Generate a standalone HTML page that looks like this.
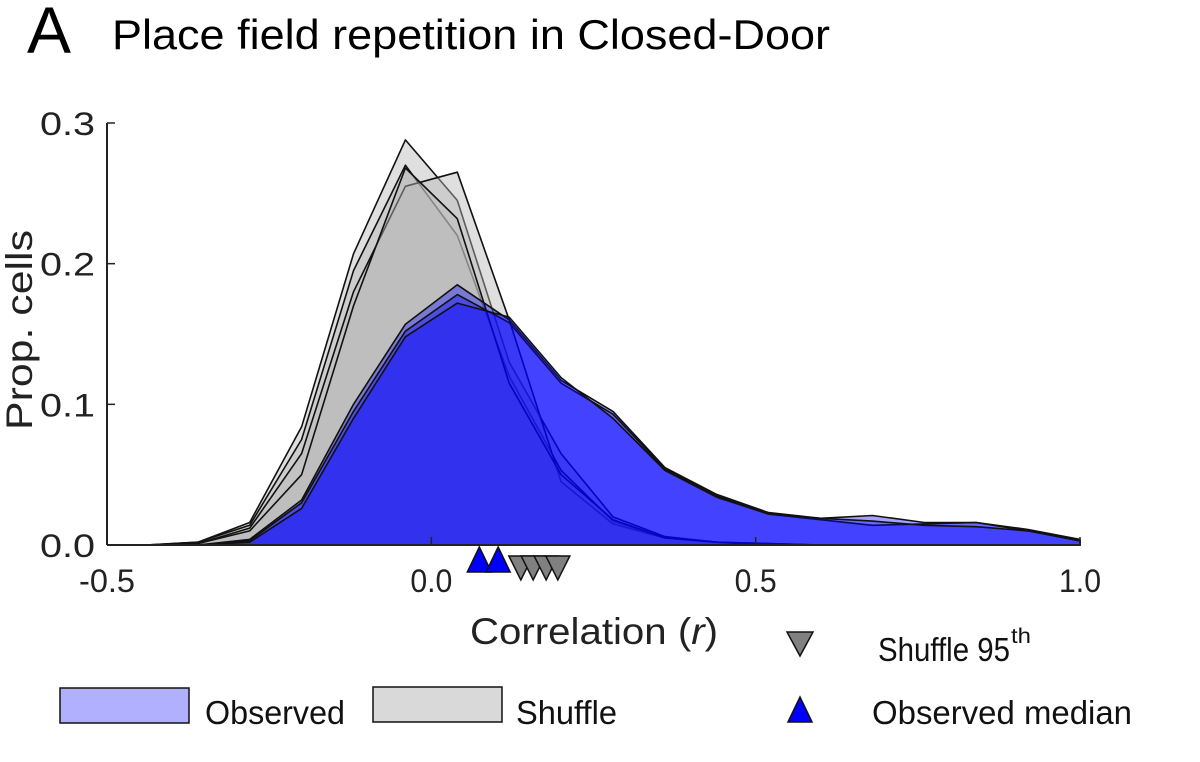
<!DOCTYPE html>
<html><head><meta charset="utf-8"><style>
html,body{margin:0;padding:0;background:#fff;}
svg{display:block;font-family:"Liberation Sans",Arial,sans-serif;}
</style></head><body>
<svg id="chart" width="1200" height="762" viewBox="0 0 1200 762">
<text x="27" y="53" font-size="66" fill="#000">A</text>
<text x="112" y="49" font-size="42" textLength="718" lengthAdjust="spacingAndGlyphs" fill="#000">Place field repetition in Closed-Door</text>
<g id="shuffle-layer"></g>
<g id="obs-layer"></g>
<g id="axes"></g>
<g id="markers"></g>
<text x="470" y="644" font-size="37" textLength="248" lengthAdjust="spacingAndGlyphs" fill="#222">Correlation (<tspan font-style="italic">r</tspan>)</text>
<text transform="translate(32,330) rotate(-90)" font-size="37" text-anchor="middle" textLength="200" lengthAdjust="spacingAndGlyphs" fill="#222">Prop. cells</text>
<g>
<rect x="60" y="688" width="129" height="35" fill="#b0b0ff" stroke="#111" stroke-width="1.5"/>
<text x="205" y="724" font-size="33" textLength="140" lengthAdjust="spacingAndGlyphs" fill="#111">Observed</text>
<rect x="373" y="687" width="129" height="35" fill="#d9d9d9" stroke="#111" stroke-width="1.5"/>
<text x="516" y="724" font-size="33" textLength="101" lengthAdjust="spacingAndGlyphs" fill="#111">Shuffle</text>
<polygon points="787,632 813,632 800,656" fill="#808080" stroke="#111" stroke-width="1.5"/>
<text x="878" y="661" font-size="33" textLength="132" lengthAdjust="spacingAndGlyphs" fill="#111">Shuffle 95</text>
<text x="1011" y="643" font-size="21" textLength="20" lengthAdjust="spacingAndGlyphs" fill="#111">th</text>
<polygon points="788,722 812,722 800,697" fill="#0000ff" stroke="#111" stroke-width="1.5"/>
<text x="872" y="724" font-size="33" textLength="260" lengthAdjust="spacingAndGlyphs" fill="#111">Observed median</text>
</g>
</svg>
<script>
const binCenters=[-0.44,-0.36,-0.28,-0.2,-0.12,-0.04,0.04,0.12,0.2,0.28,0.36,0.44,0.52,0.6,0.68,0.76,0.84,0.92,1.0];
const shuffle1=[0,0.002,0.016,0.084,0.207,0.288,0.245,0.13,0.065,0.02,0.006,0.002,0.001,0,0,0,0,0,0];
const shuffle2=[0,0.002,0.014,0.075,0.195,0.27,0.22,0.12,0.053,0.017,0.005,0.002,0.001,0,0,0,0,0,0];
const shuffle3=[0,0.001,0.012,0.065,0.18,0.255,0.265,0.16,0.045,0.015,0.005,0.002,0,0,0,0,0,0,0];
const shuffle4=[0,0.001,0.01,0.05,0.17,0.268,0.232,0.115,0.05,0.018,0.005,0.002,0,0,0,0,0,0,0];
const observed1=[0,0,0.004,0.032,0.1,0.157,0.185,0.16,0.117,0.095,0.055,0.036,0.023,0.019,0.021,0.016,0.016,0.011,0.004];
const observed2=[0,0,0.003,0.03,0.095,0.152,0.178,0.158,0.115,0.093,0.054,0.035,0.022,0.018,0.014,0.015,0.016,0.01,0.003];
const observed3=[0,0,0.002,0.026,0.09,0.148,0.172,0.162,0.119,0.09,0.053,0.034,0.022,0.019,0.017,0.014,0.013,0.01,0.003];
const shuffleSeries=[shuffle1,shuffle2,shuffle3,shuffle4];
const observedSeries=[observed1,observed2,observed3];
const medianValues=[0.074,0.103];
const shuffle95Values=[0.138,0.157,0.177,0.195];
const xTicks=[-0.5,0,0.5,1.0];
const xTickLabels=["-0.5","0.0","0.5","1.0"];
const yTicks=[0,0.1,0.2,0.3];
const yTickLabels=["0.0","0.1","0.2","0.3"];

const NS="http://www.w3.org/2000/svg";
const X0=107,X1=1080,Y0=545,Y1=123;
function xs(v){return X0+(v+0.5)/1.5*(X1-X0);}
function ys(v){return Y0-v/0.3*(Y0-Y1);}
function mk(tag,attrs,parent){const e=document.createElementNS(NS,tag);for(const k in attrs)e.setAttribute(k,attrs[k]);parent.appendChild(e);return e;}
function areaPath(arr){let d="M"+xs(binCenters[0])+","+ys(0);arr.forEach((v,i)=>{d+=" L"+xs(binCenters[i]).toFixed(1)+","+ys(v).toFixed(1);});d+=" L"+xs(binCenters[binCenters.length-1])+","+ys(0)+" Z";return d;}
const sl=document.getElementById('shuffle-layer');
shuffleSeries.forEach((s,i)=>{
 const p=mk('path',{d:areaPath(s),fill:'#b8b8b8','fill-opacity':'0.45',stroke:'#111','stroke-width':'1.6','stroke-linejoin':'round'},sl);
 
 
});
const ol=document.getElementById('obs-layer');
observedSeries.forEach((s,i)=>{
 const p=mk('path',{d:areaPath(s),fill:'#0000ff','fill-opacity':'0.36',stroke:'#111','stroke-width':'1.6','stroke-linejoin':'round'},ol);
 
 
});
const ax=document.getElementById('axes');
const xl=mk('line',{x1:X0,y1:Y0,x2:X1,y2:Y0,stroke:'#222','stroke-width':'2'},ax);


const yl=mk('line',{x1:X0,y1:Y0,x2:X0,y2:Y1,stroke:'#222','stroke-width':'2'},ax);


xTicks.forEach((v,i)=>{
 mk('line',{x1:xs(v),y1:Y0,x2:xs(v),y2:Y0-8,stroke:'#222','stroke-width':'1.5'},ax);
 const w=xTickLabels[i].length*14;
 const t=mk('text',{x:xs(v),y:592,'font-size':'32','text-anchor':'middle',textLength:w,lengthAdjust:'spacingAndGlyphs',fill:'#222'},ax);
 t.textContent=xTickLabels[i];
 
 
});
yTicks.forEach((v,i)=>{
 mk('line',{x1:X0,y1:ys(v),x2:X0+8,y2:ys(v),stroke:'#222','stroke-width':'1.5'},ax);
 const t=mk('text',{x:95,y:ys(v)+12,'font-size':'32','text-anchor':'end',textLength:55,lengthAdjust:'spacingAndGlyphs',fill:'#222'},ax);
 t.textContent=yTickLabels[i];
 
 
});
const mg=document.getElementById('markers');
shuffle95Values.forEach(v=>{
 const c=xs(v);
 const p=mk('polygon',{points:`${c-12},556 ${c+12},556 ${c},580`,fill:'#808080',stroke:'#111','stroke-width':'1.5'},mg);
 
 
});
medianValues.forEach(v=>{
 const c=xs(v);
 const p=mk('polygon',{points:`${c-12},572 ${c+12},572 ${c},547`,fill:'#0000ff',stroke:'#111','stroke-width':'1.5'},mg);
 
 
});
</script>
</body></html>
